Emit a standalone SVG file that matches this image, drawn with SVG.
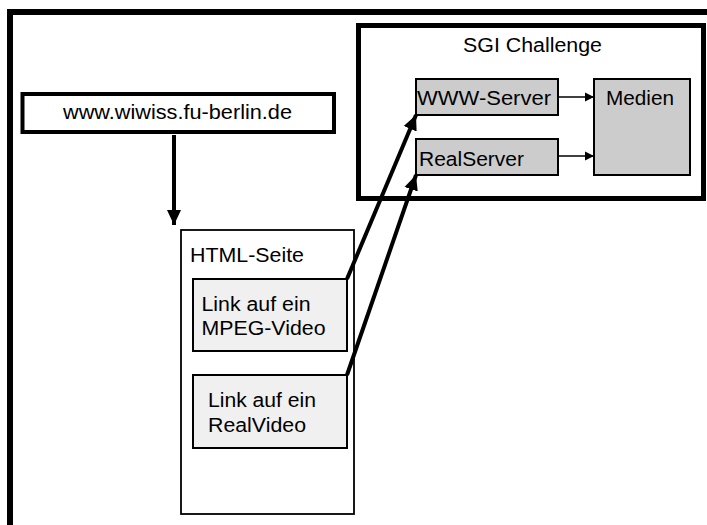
<svg xmlns="http://www.w3.org/2000/svg" width="707" height="525" viewBox="0 0 707 525">
<style>
text{font-family:"Liberation Sans",Arial,sans-serif;font-size:19.5px;fill:#000}
.frame{fill:none;stroke:#000;stroke-width:6}
.sgi{fill:#fff;stroke:#000;stroke-width:5}
.url{fill:#fff;stroke:#000;stroke-width:4}
.page{fill:#fff;stroke:#000;stroke-width:1.8}
.link{fill:#f0f0f0;stroke:#000;stroke-width:2}
.srv{fill:#cccccc;stroke:#000;stroke-width:2}
.thick{fill:none;stroke:#000;stroke-width:4}
.thin{fill:none;stroke:#000;stroke-width:1.5}
</style>
<defs>
<marker id="ah" markerUnits="userSpaceOnUse" markerWidth="16" markerHeight="16" viewBox="0 0 16 16" refX="15" refY="8" orient="auto"><path d="M0,1 L15,8 L0,15 Z" fill="#000"/></marker>
<marker id="as" markerUnits="userSpaceOnUse" markerWidth="10" markerHeight="10" viewBox="0 0 10 10" refX="9" refY="5" orient="auto"><path d="M0,0.5 L9,5 L0,9.5 Z" fill="#000"/></marker>
</defs>
<rect width="707" height="525" fill="#fff"/>
<path class="frame" d="M10,530 V12 H712"/>
<g id="sgi">
<rect class="sgi" x="358.5" y="25.5" width="345" height="173"/>
<text x="463" y="52" textLength="139" lengthAdjust="spacingAndGlyphs">SGI Challenge</text>
</g>
<g id="www">
<rect class="url" x="22.5" y="94" width="311.5" height="38"/>
<text x="63" y="119" textLength="229" lengthAdjust="spacingAndGlyphs">www.wiwiss.fu-berlin.de</text>
</g>
<g id="html">
<rect class="page" x="181" y="230" width="173" height="284"/>
<text x="190" y="262" textLength="114" lengthAdjust="spacingAndGlyphs">HTML-Seite</text>
</g>
<g id="link-mpeg">
<rect class="link" x="193" y="279" width="154" height="72"/>
<text x="201.5" y="311" textLength="109" lengthAdjust="spacingAndGlyphs">Link auf ein</text>
<text x="201.5" y="335" textLength="124" lengthAdjust="spacingAndGlyphs">MPEG-Video</text>
</g>
<g id="link-real">
<rect class="link" x="193" y="375" width="154" height="73"/>
<text x="208" y="407" textLength="108" lengthAdjust="spacingAndGlyphs">Link auf ein</text>
<text x="208" y="432" textLength="98" lengthAdjust="spacingAndGlyphs">RealVideo</text>
</g>
<g id="www-server">
<rect class="srv" x="416" y="79" width="142" height="36"/>
<text x="417" y="105" textLength="134" lengthAdjust="spacingAndGlyphs">WWW-Server</text>
</g>
<g id="realserver">
<rect class="srv" x="416" y="139" width="142" height="36"/>
<text x="419" y="166" textLength="105" lengthAdjust="spacingAndGlyphs">RealServer</text>
</g>
<g id="medien">
<rect class="srv" x="594" y="79" width="96" height="96"/>
<text x="606" y="105" textLength="68" lengthAdjust="spacingAndGlyphs">Medien</text>
</g>
<g id="connectors">
<line class="thick" x1="174" y1="135" x2="174" y2="225" marker-end="url(#ah)"/>
<line class="thick" x1="347" y1="279" x2="416" y2="115" marker-end="url(#ah)"/>
<line class="thick" x1="347" y1="375" x2="416" y2="175" marker-end="url(#ah)"/>
<line class="thin" x1="558" y1="97" x2="594" y2="97" marker-end="url(#as)"/>
<line class="thin" x1="558" y1="156" x2="594" y2="156" marker-end="url(#as)"/>
</g>
</svg>
